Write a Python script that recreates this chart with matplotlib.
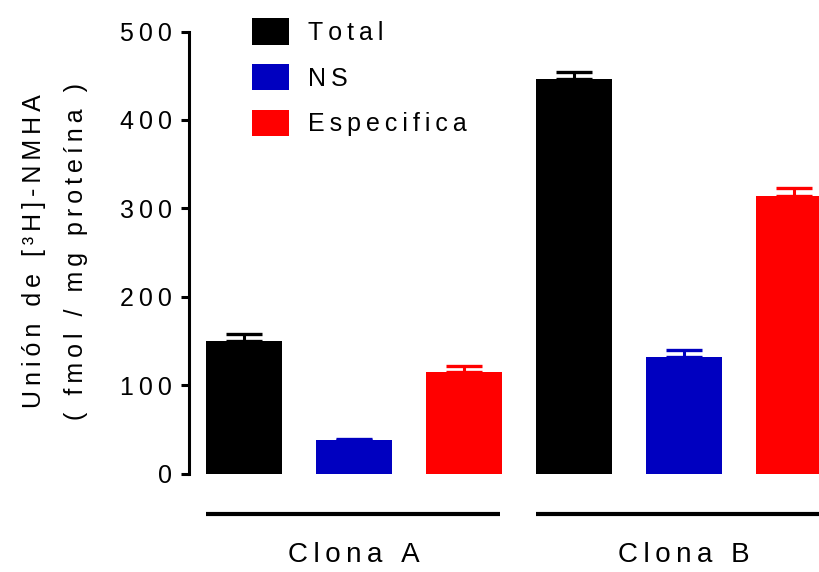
import numpy as np
import matplotlib.pyplot as plt
from matplotlib.patches import Patch

plt.rcParams['font.family'] = ['Liberation Sans', 'DejaVu Sans']

# mean binding values and SEM for each clone
groups = ['Clona A', 'Clona B']
series = ['Total', 'NS', 'Especifica']
colors = ['#000000', '#0000C0', '#FF0000']
clona_a = [150, 37.5, 114.5]
clona_a_err = [7.5, 1.5, 7]
clona_b = [446, 132, 314]
clona_b_err = [8.5, 7.5, 8.5]

yticks = [0, 100, 200, 300, 400, 500]


def spaced(s):
    # wide tracking between letters
    return '\u2009'.join(s)


fig = plt.figure(figsize=(8.19, 5.72), dpi=100)
ax = fig.add_axes([0.2308, 0.1722, 0.8059, 0.7727])

values = clona_a + clona_b
errors = clona_a_err + clona_b_err
bar_colors = colors + colors
x = np.arange(len(values))

bars = ax.bar(x, values, width=0.69, color=bar_colors, zorder=2)
for xi, v, e, c in zip(x, values, errors, bar_colors):
    ax.errorbar(xi, v, yerr=[[0], [e]], fmt='none', ecolor=c, elinewidth=2.2,
                capsize=13, capthick=2.4, zorder=3)

ax.set_xlim(-0.5, 5.5)
ax.set_ylim(0, 500)
ax.set_yticks(yticks)
ax.set_yticklabels([spaced(str(t)) for t in yticks])
ax.tick_params(axis='y', length=5.8, width=2.2, pad=6.5, labelsize=18)
ax.set_xticks([])
for s in ['top', 'right', 'bottom']:
    ax.spines[s].set_visible(False)
ax.spines['left'].set_linewidth(2.2)
ax.spines['left'].set_bounds(0, 500)

# group bars under each clone
for i, name in enumerate(groups):
    cx = 1 + 3 * i
    ax.plot([cx - 1.35, cx + 1.33], [-46, -46], color='black', lw=3,
            solid_capstyle='butt', clip_on=False)
    ax.text(cx, -92, spaced(name), ha='center', va='center', fontsize=20,
            clip_on=False)

ylab = spaced('Unión de [\u00b3H]-NMHA') + '\n' + spaced('( fmol / mg proteína )')
fig.text(0.0672, 0.561, ylab, rotation=90, ha='center', va='center',
         fontsize=18, multialignment='center', linespacing=1.9)

handles = [Patch(facecolor=c) for c in colors]
ax.legend(handles, [spaced(s) for s in series], loc='upper left',
          bbox_to_anchor=(0.3077, 0.968), bbox_transform=fig.transFigure,
          frameon=False, fontsize=18, handlelength=1.48, handleheight=1.25,
          labelspacing=0.76, handletextpad=0.76, borderpad=0, borderaxespad=0)

fig.savefig('out.png', dpi=100)
